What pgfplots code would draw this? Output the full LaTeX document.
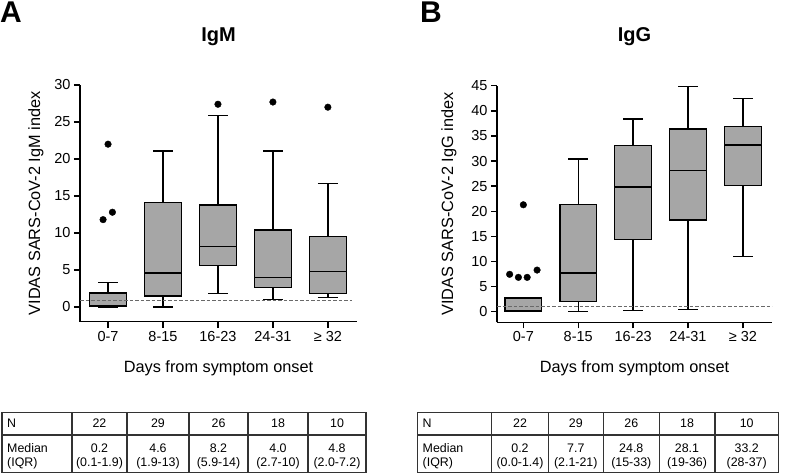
\documentclass[border=0pt]{standalone}
\usepackage{fontspec}
\setmainfont{Liberation Sans}
\usepackage{pgfplots}
\pgfplotsset{compat=1.18}
\usepgfplotslibrary{statistics}
\definecolor{boxgray}{RGB}{166,166,166}
\definecolor{dashgray}{RGB}{105,105,105}
\pgfplotsset{
  panel/.style={
    scale only axis,
    axis x line*=bottom, axis y line*=left,
    axis line style={line width=1.4pt, black},
    tick style={line width=1.4pt, black},
    tick align=outside,
    major tick length=6pt,
    xtick={0,1,2,3,4},
    xticklabels={0-7,8-15,16-23,24-31,≥ 32},
    /pgf/number format/assume math mode=true,
    ticklabel style={font=\fontsize{14.5}{15}\selectfont},
    xlabel={Days from symptom onset},
    label style={font=\fontsize{16.3}{17}\selectfont},
    title style={font=\bfseries\fontsize{20}{22}\selectfont, anchor=center},
    boxplot/draw direction=y,
    boxplot/box extend=0.67,
    boxplot/whisker extend=0.36,
  },
  bx/.style={draw=black, fill=boxgray, line width=1.4pt, solid},
  outl/.style={only marks, mark=*, mark size=3.3pt, black},
  cut/.style={dashgray, line width=1pt, dash pattern=on 3.5pt off 2pt},
}
\begin{document}
\begin{tikzpicture}
\useasboundingbox (0,0) rectangle (785pt,-475pt);
\node[font=\bfseries\fontsize{30}{30}\selectfont, anchor=center] at (11pt,-12.5pt) {A};
\node[font=\bfseries\fontsize{30}{30}\selectfont, anchor=center] at (431pt,-12.5pt) {B};

% ---------- Panel A: IgM ----------
\begin{axis}[panel,
  at={(80pt,-321.7pt)}, anchor=south west,
  width=277pt, height=236.7pt,
  xmin=-0.51, xmax=4.53, ymin=-2, ymax=30,
  ytick={0,5,...,30},
  ylabel={VIDAS SARS-CoV-2 IgM index},
  ylabel style={at={(axis description cs:-0.159,0.5)}, anchor=center},
  xlabel style={at={(axis description cs:0.5,-0.196)}, anchor=center},
  title={IgM},
  title style={at={(axis description cs:0.5,1.177)}},
]
\addplot[bx, boxplot prepared={draw position=0, lower whisker=0, lower quartile=0.1, median=0.2, upper quartile=1.9, upper whisker=3.3}] coordinates {};
\addplot[bx, boxplot prepared={draw position=1, lower whisker=0, lower quartile=1.5, median=4.6, upper quartile=14.1, upper whisker=21.1}] coordinates {};
\addplot[bx, boxplot prepared={draw position=2, lower whisker=1.8, lower quartile=5.6, median=8.2, upper quartile=13.8, upper whisker=25.9}] coordinates {};
\addplot[bx, boxplot prepared={draw position=3, lower whisker=1.0, lower quartile=2.6, median=4.0, upper quartile=10.4, upper whisker=21.1}] coordinates {};
\addplot[bx, boxplot prepared={draw position=4, lower whisker=1.3, lower quartile=1.85, median=4.8, upper quartile=9.5, upper whisker=16.7}] coordinates {};
\addplot[outl] coordinates {(-0.09,11.8) (0.08,12.8) (0,22.0) (2,27.4) (3,27.7) (4,27.0)};
\addplot[cut] coordinates {(-0.51,0.85) (4.44,0.85)};
\end{axis}

% ---------- Panel B: IgG ----------
\begin{axis}[panel,
  at={(497pt,-322.3pt)}, anchor=south west,
  width=275pt, height=236.6pt,
  xmin=-0.48, xmax=4.53, ymin=-2.1, ymax=45,
  ytick={0,5,...,45},
  ylabel={VIDAS SARS-CoV-2 IgG index},
  ylabel style={at={(axis description cs:-0.1745,0.5)}, anchor=center},
  xlabel style={at={(axis description cs:0.5,-0.194)}, anchor=center},
  title={IgG},
  title style={at={(axis description cs:0.5,1.18)}},
]
\addplot[bx, boxplot prepared={draw position=0, lower whisker=0, lower quartile=0, median=0.2, upper quartile=2.7, upper whisker=2.7}] coordinates {};
\addplot[bx, boxplot prepared={draw position=1, lower whisker=0, lower quartile=2.0, median=7.7, upper quartile=21.4, upper whisker=30.4}] coordinates {};
\addplot[bx, boxplot prepared={draw position=2, lower whisker=0.2, lower quartile=14.4, median=24.8, upper quartile=33.1, upper whisker=38.4}] coordinates {};
\addplot[bx, boxplot prepared={draw position=3, lower whisker=0.5, lower quartile=18.3, median=28.1, upper quartile=36.4, upper whisker=44.9}] coordinates {};
\addplot[bx, boxplot prepared={draw position=4, lower whisker=11.0, lower quartile=25.1, median=33.2, upper quartile=36.9, upper whisker=42.5}] coordinates {};
\addplot[outl] coordinates {(-0.25,7.45) (-0.09,6.85) (0.07,6.85) (0.25,8.3) (0,21.3)};
\addplot[cut] coordinates {(-0.48,1.0) (4.53,1.0)};
\end{axis}

% ---------- Tables ----------
\begin{scope}[line width=1.2pt, black!80]
  % Table A
  \draw (2pt,-412.5pt) rectangle (366pt,-472.5pt);
  \draw (2pt,-435pt) -- (366pt,-435pt);
  \foreach \x in {72,127,189,248,308} \draw (\x pt,-412.5pt) -- (\x pt,-472.5pt);
  % Table B
  \draw (417.7pt,-412.5pt) rectangle (778.3pt,-472.5pt);
  \draw (417.7pt,-435pt) -- (778.3pt,-435pt);
  \foreach \x in {491.7,548.3,603.3,659.3,715} \draw (\x pt,-412.5pt) -- (\x pt,-472.5pt);
\end{scope}
\begin{scope}[every node/.style={font=\fontsize{12.4}{14}\selectfont, inner sep=0pt}]
  % Table A text
  \node[anchor=west] at (7pt,-423.5pt) {N};
  \node[anchor=west] at (7pt,-448.5pt) {Median};
  \node[anchor=west] at (7pt,-463.5pt) {(IQR)};
  \foreach \x/\n/\m/\q in {99.5/22/0.2/(0.1-1.9), 158/29/4.6/(1.9-13), 218.5/26/8.2/(5.9-14), 278/18/4.0/(2.7-10), 337/10/4.8/(2.0-7.2)} {
    \node at (\x pt,-423.5pt) {\n};
    \node at (\x pt,-448.5pt) {\m};
    \node at (\x pt,-463.5pt) {\q};
  }
  % Table B text
  \node[anchor=west] at (422.5pt,-423.5pt) {N};
  \node[anchor=west] at (422.5pt,-448.5pt) {Median};
  \node[anchor=west] at (422.5pt,-463.5pt) {(IQR)};
  \foreach \x/\n/\m/\q in {520/22/0.2/(0.0-1.4), 575.8/29/7.7/(2.1-21), 631.3/26/24.8/(15-33), 687/18/28.1/(19-36), 746.7/10/33.2/(28-37)} {
    \node at (\x pt,-423.5pt) {\n};
    \node at (\x pt,-448.5pt) {\m};
    \node at (\x pt,-463.5pt) {\q};
  }
\end{scope}
\end{tikzpicture}
\end{document}
